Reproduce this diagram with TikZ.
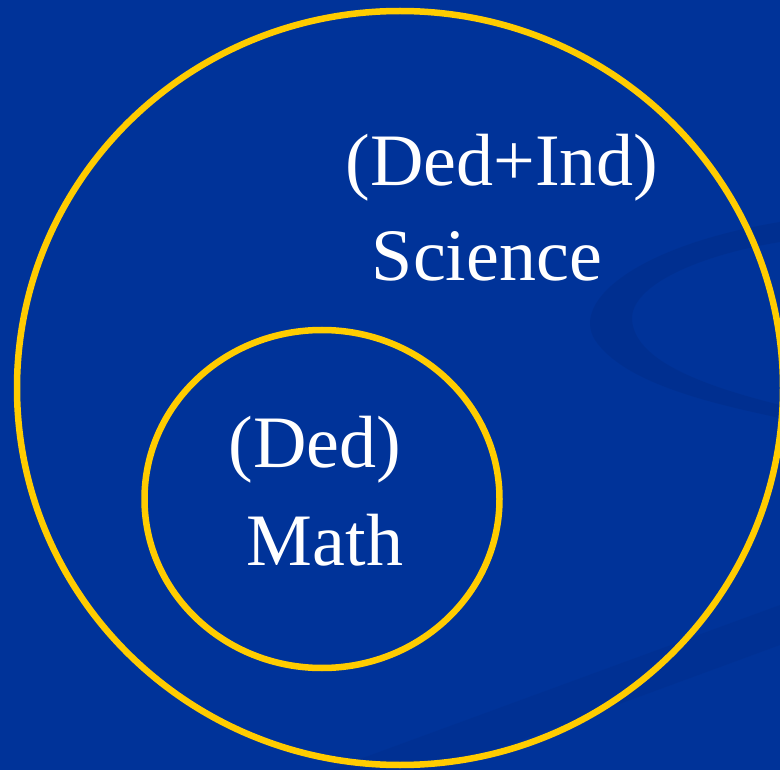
\documentclass[tikz,border=0pt]{standalone}
\usepackage{fontspec}
\setmainfont{Liberation Serif}
\usetikzlibrary{shapes.geometric}
\definecolor{bgblue}{HTML}{003399}
\definecolor{swoosh}{HTML}{002F8E}
\definecolor{ringgold}{HTML}{FFCC00}
\tikzset{
  ring/.style={draw=ringgold, line width=6.5pt},
  label/.style={text=white, font=\fontsize{74}{78}\selectfont, align=center, inner sep=0pt}
}
\begin{document}
\begin{tikzpicture}[x=1pt,y=-1pt]
\fill[bgblue] (0,0) rectangle (780,770);
\useasboundingbox (0,0) rectangle (780,770);
% background swooshes
\fill[swoosh, opacity=0.8] (780,222) .. controls (640,245) and (570,300) .. (595,340)
  .. controls (625,385) and (720,405) .. (780,418)
  -- (780,405) .. controls (700,385) and (635,360) .. (632,320)
  .. controls (630,285) and (700,255) .. (780,242) -- cycle;
\fill[swoosh, opacity=0.5] (330,770) -- (780,605) -- (780,645) -- (440,770) -- cycle;
% circles
\node[ring, ellipse, minimum width=766pt, minimum height=754pt, inner sep=0pt] (outer) at (400,388) {};
\node[ring, ellipse, minimum width=355pt, minimum height=338pt, inner sep=0pt] (inner) at (322,499) {};
% labels
\node[label] (sci1) at (502,168) {(Ded+Ind)};
\node[label] (sci2) at (487,256) {Science};
\node[label] (m1) at (315,450) {(Ded)};
\node[label] (m2) at (325,540) {Math};
\end{tikzpicture}
\end{document}
